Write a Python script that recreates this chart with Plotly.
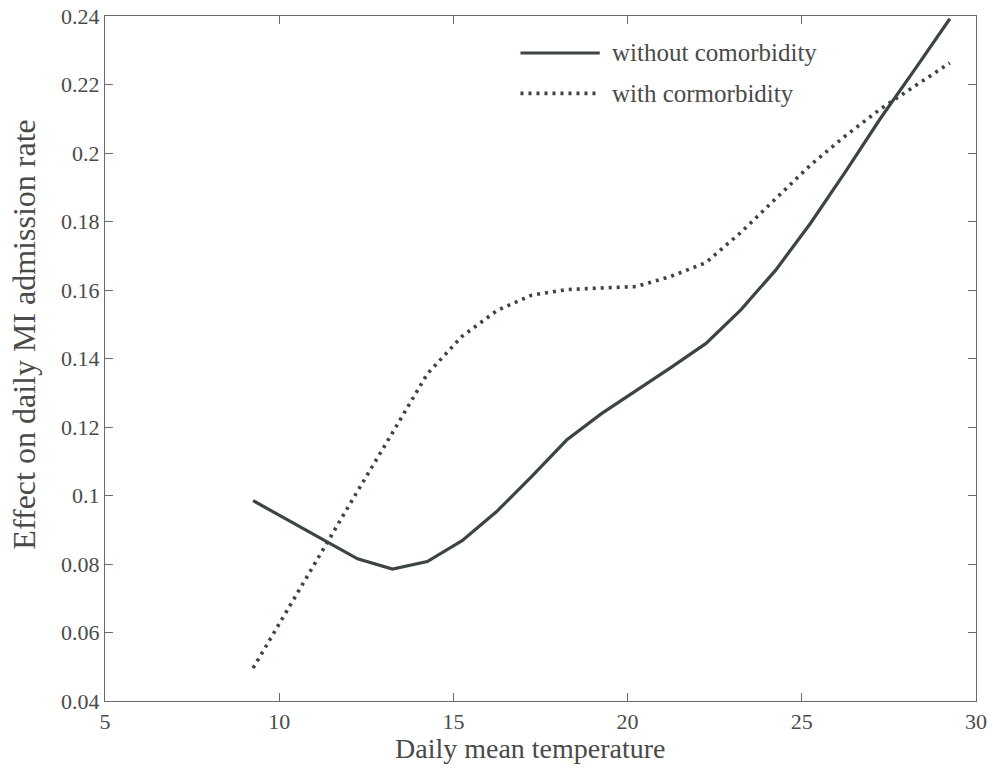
import plotly.graph_objects as go

temperature = [9.25, 10.25, 11.25, 12.25, 13.25, 14.25, 15.25, 16.25, 17.25, 18.25,
               19.25, 20.25, 21.25, 22.25, 23.25, 24.25, 25.25, 26.25, 27.25, 28.25, 29.25]
without_comorbidity = [0.0985, 0.0928, 0.0871, 0.0815, 0.0785, 0.0807, 0.0868, 0.0954, 0.1056, 0.1162,
                       0.1239, 0.1306, 0.1374, 0.1444, 0.1542, 0.1658, 0.1795, 0.1945, 0.2100, 0.2245, 0.2392]
with_comorbidity = [0.0496, 0.0670, 0.0843, 0.1013, 0.1183, 0.1355, 0.1465, 0.1540, 0.1585, 0.1601,
                    0.1606, 0.1610, 0.1640, 0.1680, 0.1768, 0.1865, 0.1965, 0.2050, 0.2128, 0.2196, 0.2263]
x_ticks = [5, 10, 15, 20, 25, 30]
y_ticks = [0.04, 0.06, 0.08, 0.1, 0.12, 0.14, 0.16, 0.18, 0.2, 0.22, 0.24]
y_tick_labels = ["0.04", "0.06", "0.08", "0.1", "0.12", "0.14", "0.16", "0.18", "0.2", "0.22", "0.24"]
legend_names = ["without comorbidity", "with cormorbidity"]
x_title = "Daily mean temperature"
y_title = "Effect on daily MI admission rate"

LINE = "#3d4444"
AX = "#6a6a6a"
TXT = "#4a4a4a"
FONT = "Liberation Serif"

fig = go.Figure()
fig.add_trace(go.Scatter(x=temperature, y=without_comorbidity, mode="lines",
                         line=dict(color=LINE, width=3.2), name=legend_names[0]))
fig.add_trace(go.Scatter(x=temperature, y=with_comorbidity, mode="lines",
                         line=dict(color=LINE, width=3.6, dash="3px,5px"), name=legend_names[1]))

axis_common = dict(showline=True, linecolor=AX, linewidth=1.2, mirror="ticks",
                   ticks="inside", ticklen=8, tickcolor=AX, tickwidth=1,
                   showgrid=False, zeroline=False, automargin=False,
                   tickfont=dict(family=FONT, size=22, color=TXT))

fig.update_layout(
    width=990, height=776,
    margin=dict(l=105, r=14, t=16, b=75, autoexpand=False),
    paper_bgcolor="white", plot_bgcolor="white",
    showlegend=False,
    xaxis=dict(range=[5, 30], tickvals=x_ticks, **axis_common),
    yaxis=dict(range=[0.04, 0.24], tickvals=y_ticks, ticktext=y_tick_labels, **axis_common),
)

# Axis titles
fig.add_annotation(xref="paper", yref="paper", x=0.489, y=-0.07, xanchor="center", yanchor="middle",
                   text=x_title, showarrow=False, font=dict(family=FONT, size=28, color=TXT))
fig.add_annotation(xref="paper", yref="paper", x=-0.094, y=0.535, xanchor="center", yanchor="middle",
                   text=y_title, textangle=-90, showarrow=False, font=dict(family=FONT, size=32, color=TXT))

# Legend drawn in paper coordinates (long line samples as in the original)
fig.add_shape(type="line", xref="paper", yref="paper", x0=0.477, x1=0.568, y0=0.946, y1=0.946,
              line=dict(color=LINE, width=3.2))
fig.add_shape(type="line", xref="paper", yref="paper", x0=0.477, x1=0.568, y0=0.887, y1=0.887,
              line=dict(color=LINE, width=3.6, dash="3px,5px"))
fig.add_annotation(xref="paper", yref="paper", x=0.580, y=0.946, xanchor="left", yanchor="middle",
                   text=legend_names[0], showarrow=False, font=dict(family=FONT, size=25, color=TXT))
fig.add_annotation(xref="paper", yref="paper", x=0.580, y=0.887, xanchor="left", yanchor="middle",
                   text=legend_names[1], showarrow=False, font=dict(family=FONT, size=25, color=TXT))

fig.write_html("out.html", config={"displayModeBar": False},
               post_script="document.body.style.margin='0';")
